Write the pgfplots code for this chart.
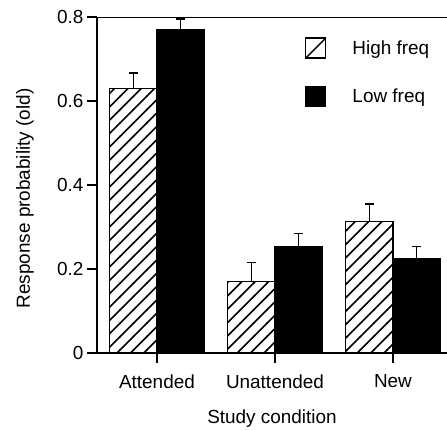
\documentclass[border=0pt]{standalone}
\usepackage{graphicx}
\usepackage{pgfplots}
\pgfplotsset{compat=1.18}
\usepackage{fontspec}
\setmainfont{Liberation Sans}
\usetikzlibrary{patterns}
\pgfdeclarepatternformonly{widelines}{\pgfqpoint{-1pt}{-1pt}}{\pgfqpoint{14.4pt}{14.4pt}}{\pgfqpoint{13.4pt}{13.4pt}}{%
  \pgfsetlinewidth{1.6pt}%
  \pgfpathmoveto{\pgfqpoint{-0.5pt}{-0.5pt}}%
  \pgfpathlineto{\pgfqpoint{13.9pt}{13.9pt}}%
  \pgfusepath{stroke}}
\newcommand{\ff}{\fontsize{19}{22}\selectfont}
\pgfplotstableread{
x y e
0 0.630 0.037
1 0.171 0.044
2 0.313 0.042
}\highfreq
\pgfplotstableread{
x y e
0 0.771 0.024
1 0.253 0.032
2 0.225 0.028
}\lowfreq
\begin{document}
\begin{tikzpicture}
\begin{axis}[
  name=ax,
  scale only axis, width=350bp, height=336bp,
  ymin=0, ymax=0.8, xmin=-0.508, xmax=2.458,
  axis x line*=bottom, axis y line*=left, axis line style={-, line width=1.2pt},
  ytick={0,0.2,0.4,0.6,0.8}, yticklabels={0,0.2,0.4,0.6,0.8},
  xtick={0,1,2}, xticklabels={Attended,Unattended,New},
  tick align=outside, major tick length=10bp,
  tick style={line width=1.2pt, black},
  xticklabel style={font=\ff, yshift=-8bp},
  yticklabel style={font=\ff},
  xlabel style={font=\ff, at={(axis description cs:0.5,0)}, anchor=base, yshift=-70bp},
  ylabel style={font=\ff, at={(axis description cs:0,0.46)}, rotate=-90, anchor=center, xshift=-72bp},
  xlabel={Study condition}, ylabel={\rotatebox{90}{Response probability (old)}},
  ybar, bar width=0.4,
  legend style={at={(0.594,0.94)}, anchor=north west, draw=none, fill=none,
    inner sep=0pt, row sep=27bp, nodes={inner sep=0pt}, cells={anchor=west},
    /tikz/every odd column/.append style={column sep=26bp},
    font=\ff},
]
\addplot[draw=black, line width=1.2pt, pattern=widelines, bar shift=-0.2,
  legend image code/.code={\draw[black, fill=white, line width=1.2pt] (0bp,-10bp) rectangle (20bp,10bp);
    \draw[black, line width=1.4pt] (0bp,-10bp) -- (20bp,10bp);}]
  table[x=x, y=y] {\highfreq};
\addlegendentry{High freq}
\addplot[draw=black, fill=black, line width=1.2pt, bar shift=0.2,
  legend image code/.code={\draw[black, fill=black, line width=1.2pt] (0bp,-10bp) rectangle (20bp,10bp);}]
  table[x=x, y=y] {\lowfreq};
\addlegendentry{Low freq}
\addplot[draw=none, fill=none, bar shift=-0.2, forget plot,
  error bars/.cd, y dir=plus, y explicit, error mark=-,
  error bar style={line width=1.5pt, draw=black, solid},
  error mark options={rotate=90, mark size=4.5bp, line width=1.5pt, draw=black}]
  table[x=x, y=y, y error=e] {\highfreq};
\addplot[draw=none, fill=none, bar shift=0.2, forget plot,
  error bars/.cd, y dir=plus, y explicit, error mark=-,
  error bar style={line width=1.5pt, draw=black, solid},
  error mark options={rotate=90, mark size=4.5bp, line width=1.5pt, draw=black}]
  table[x=x, y=y, y error=e] {\lowfreq};
\draw[line width=1.2pt] (rel axis cs:0,1) -- (rel axis cs:1,1);
\end{axis}
\pgfresetboundingbox
\path[use as bounding box] ([shift={(-97bp,-77bp)}]ax.south west) rectangle ([shift={(0bp,17bp)}]ax.north east);
\end{tikzpicture}
\end{document}
